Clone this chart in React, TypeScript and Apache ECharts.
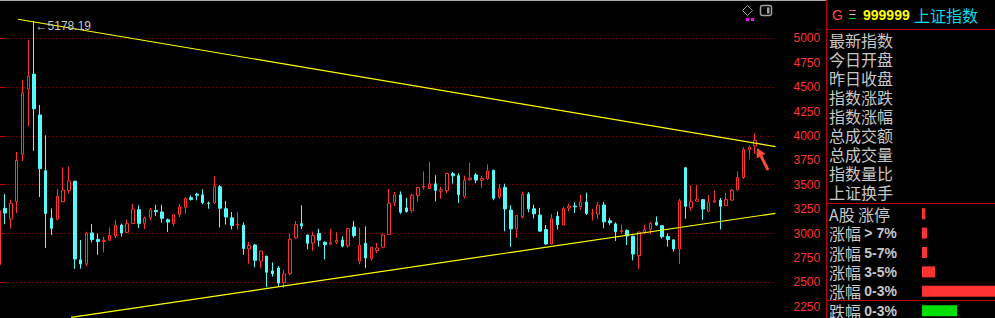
import { useEffect, useRef } from "react";
import * as echarts from "echarts";

// ---- categories: monthly bars, Dec 2014 .. Oct 2025, plus empty slots on the right
const startYear = 2014;
const startMonth = 12;
const monthCount = 131;
const padSlots = ["p1", "p2", "p3"];

// ---- monthly OHLC of 上证指数
const openP = [
  2680,
  3258, 3148, 3328, 3810, 4480, 4633, 4214, 3643, 3157, 3144, 3325, 3441,
  3536, 2730, 2688, 3006, 2940, 2918, 2931, 2974, 3086, 3011, 3102, 3244,
  3105, 3164, 3236, 3221, 3141, 3102, 3193, 3269, 3367, 3403, 3396, 3310,
  3314, 3479, 3254, 3161, 3087, 3084, 2842, 2882, 2716, 2768, 2616, 2647,
  2497, 2589, 2954, 3101, 2984, 2901, 3000, 2910, 2890, 2910, 2932, 2875,
  3066, 2716, 2899, 2743, 2826, 2860, 2991, 3318, 3396, 3262, 3234, 3388,
  3474, 3461, 3509, 3434, 3439, 3612, 3592, 3380, 3551, 3600, 3545, 3560,
  3649, 3375, 3472, 3240, 3048, 3170, 3405, 3253, 3189, 3041, 2893, 3175,
  3087, 3261, 3281, 3275, 3322, 3200, 3199, 3292, 3130, 3098, 3021, 3031,
  2972, 2774, 3014, 3043, 3116, 3080, 2968, 2935, 2841, 3674, 3267, 3330,
  3347, 3229, 3322, 3342, 3285, 3342, 3449, 3574, 3858, 3897,
];
const closeP = [
  3234,
  3210, 3310, 3748, 4441, 4612, 4277, 3664, 3206, 3053, 3382, 3445, 3539,
  2738, 2688, 3004, 2938, 2917, 2930, 2979, 3085, 3005, 3100, 3250, 3104,
  3159, 3242, 3223, 3155, 3117, 3192, 3273, 3361, 3349, 3393, 3317, 3307,
  3481, 3259, 3169, 3082, 3095, 2847, 2876, 2725, 2821, 2603, 2588, 2494,
  2585, 2941, 3091, 3078, 2899, 2979, 2932, 2886, 2905, 2929, 2871, 3050,
  2977, 2880, 2750, 2860, 2852, 2985, 3310, 3396, 3218, 3225, 3392, 3473,
  3483, 3509, 3442, 3447, 3615, 3591, 3397, 3544, 3568, 3547, 3564, 3640,
  3361, 3462, 3252, 3047, 3186, 3399, 3253, 3202, 3024, 2893, 3151, 3089,
  3256, 3280, 3273, 3323, 3205, 3202, 3291, 3120, 3110, 3018, 3030, 2975,
  2789, 3015, 3041, 3105, 3087, 2967, 2939, 2842, 3336, 3279, 3326, 3352,
  3250, 3321, 3336, 3279, 3347, 3444, 3573, 3858, 3883, 3954,
];
const lowP = [
  2664,
  3095, 3049, 3207, 3742, 4100, 3847, 3373, 2850, 2983, 3140, 3320, 3410,
  2638, 2639, 2665, 2909, 2781, 2807, 2928, 2954, 2969, 3008, 3100, 3055,
  3044, 3138, 3181, 3111, 3016, 3073, 3169, 3203, 3337, 3339, 3300, 3254,
  3306, 3062, 3091, 3041, 3041, 2782, 2691, 2653, 2644, 2449, 2558, 2462,
  2440, 2571, 2945, 3045, 2838, 2822, 2867, 2733, 2883, 2891, 2858, 2857,
  2956, 2685, 2646, 2720, 2797, 2847, 2985, 3283, 3202, 3214, 3214, 3325,
  3450, 3457, 3329, 3356, 3414, 3511, 3312, 3360, 3542, 3515, 3470, 3550,
  3341, 3351, 3023, 2863, 2955, 3155, 3216, 3155, 3021, 2885, 2886, 3040,
  3086, 3227, 3209, 3242, 3190, 3134, 3148, 3053, 3085, 2924, 3001, 2882,
  2724, 2635, 2993, 2995, 3083, 2949, 2865, 2815, 2689, 3152, 3230, 3327,
  3140, 3220, 3310, 3040, 3280, 3335, 3440, 3559, 3761, 3816,
];
const highP = [
  3239,
  3406, 3347, 3835, 4572, 4986, 5178.19, 4317, 4006, 3256, 3456, 3678, 3684,
  3539, 2933, 3018, 3097, 3000, 2967, 3060, 3140, 3101, 3138, 3301, 3288,
  3174, 3262, 3295, 3295, 3155, 3201, 3302, 3371, 3391, 3418, 3450, 3326,
  3587, 3496, 3334, 3220, 3219, 3114, 2915, 2894, 2827, 2771, 2703, 2667,
  2630, 2997, 3129, 3288, 2990, 3020, 3049, 2920, 3048, 3014, 2970, 3057,
  3127, 3059, 3074, 2861, 2904, 3000, 3458, 3425, 3431, 3365, 3409, 3475,
  3637, 3732, 3597, 3480, 3625, 3629, 3616, 3593, 3723, 3620, 3591, 3708,
  3651, 3507, 3510, 3290, 3187, 3429, 3424, 3296, 3263, 3087, 3200, 3226,
  3270, 3306, 3320, 3396, 3419, 3254, 3322, 3322, 3160, 3114, 3091, 3043,
  2976, 3017, 3091, 3119, 3175, 3086, 3001, 2939, 3358, 3674, 3494, 3495,
  3351, 3395, 3440, 3364, 3417, 3460, 3637, 3884, 3899, 4025,
];

// ---- trend lines: [month index, price]
const trendUpper = [[3.23, 5195], [133.5, 3891]];
const trendLower = [[12.36, 2141], [133.5, 3207]];

// ---- right panel
const headerCode = "999999";
const headerName = "上证指数";
const infoLabels = ["最新指数", "今日开盘", "昨日收盘", "指数涨跌", "指数涨幅", "总成交额", "总成交量", "指数量比", "上证换手"];
const breadthLabels = ["A股 涨停", "涨幅 > 7%", "涨幅 5-7%", "涨幅 3-5%", "涨幅 0-3%", "跌幅 0-3%"];
const breadthValues = [33, 50, 50, 130, 800, 350];

const months: string[] = [];
for (let i = 0; i < monthCount; i++) {
  const k = startMonth - 1 + i;
  months.push(`${startYear + Math.floor(k / 12)}-${String((k % 12) + 1).padStart(2, "0")}`);
}
const categories = [...months, ...padSlots];
const candles = openP.map((o, i) => [o, closeP[i], lowP[i], highP[i]]);

const RED = "#FF3232";
const CYAN = "#54FCFC";
const LINE_RED = "#C00000";
const GREY = "#C8C8C8";
const CJK = '"Noto Sans CJK SC", sans-serif';

export default function App() {
  const ref = useRef<HTMLDivElement>(null);
  useEffect(() => {
    if (!ref.current) return;
    const chart = echarts.init(ref.current, undefined, { renderer: "svg" });
    const graphics: any[] = [
      { type: "line", shape: { x1: 0, y1: 0.5, x2: 826, y2: 0.5 }, style: { stroke: "#A8A8A8", lineWidth: 1 } },
      { type: "line", shape: { x1: 826.5, y1: 0, x2: 826.5, y2: 318 }, style: { stroke: LINE_RED, lineWidth: 1 } },
      { type: "line", shape: { x1: 826, y1: 29.5, x2: 995, y2: 29.5 }, style: { stroke: LINE_RED, lineWidth: 1 } },
      { type: "line", shape: { x1: 826, y1: 203.5, x2: 995, y2: 203.5 }, style: { stroke: LINE_RED, lineWidth: 1 } },
      { type: "line", shape: { x1: 826, y1: 300.5, x2: 995, y2: 300.5 }, style: { stroke: LINE_RED, lineWidth: 1 } },
      // icons
      { type: "polygon", shape: { points: [[747.5, 5.5], [752.5, 10.5], [747.5, 15.5], [742.5, 10.5]] }, style: { fill: "none", stroke: "#A0A0A0", lineWidth: 1 } },
      { type: "rect", shape: { x: 760.5, y: 5.5, width: 11, height: 10, r: 2 }, style: { fill: "none", stroke: "#A0A0A0", lineWidth: 1.5 } },
      { type: "rect", shape: { x: 767, y: 7.5, width: 2.5, height: 6 }, style: { fill: "#A0A0A0" } },
      { type: "rect", shape: { x: 746, y: 18, width: 3, height: 3 }, style: { fill: "#FF00FF" } },
      { type: "rect", shape: { x: 751, y: 18, width: 3, height: 3 }, style: { fill: "#FF00FF" } },
      // arrow
      {
        type: "polygon",
        shape: { points: [[757, 148], [765.5, 153.8], [762.3, 155.3], [769.3, 169.3], [766.7, 170.7], [759.7, 156.7], [756.5, 158.2]] },
        style: { fill: "#FF4A3A" },
      },
      // header
      { type: "text", x: 832, y: 15, style: { text: "G", fill: "#FF4A4A", fontSize: 14, lineHeight: 14, fontFamily: "Liberation Sans", verticalAlign: "middle" } },
      { type: "line", shape: { x1: 849, y1: 10.5, x2: 856, y2: 10.5 }, style: { stroke: "#E06060", lineWidth: 1 } },
      { type: "line", shape: { x1: 849.5, y1: 14.5, x2: 855.5, y2: 14.5 }, style: { stroke: "#D0D0D0", lineWidth: 1 } },
      { type: "line", shape: { x1: 849, y1: 18.5, x2: 856, y2: 18.5 }, style: { stroke: "#00E000", lineWidth: 1 } },
      { type: "text", x: 863, y: 15, style: { text: headerCode, fill: "#FFFF00", fontSize: 14, lineHeight: 14, fontWeight: "bold", fontFamily: "Liberation Sans", verticalAlign: "middle" } },
      { type: "text", x: 914, y: 15, style: { text: headerName, fill: "#00DCEB", fontSize: 16, lineHeight: 16, fontFamily: CJK, verticalAlign: "middle" } },
      ...infoLabels.map((t, i) => ({
        type: "text",
        x: 829,
        y: 40 + i * 19.06,
        style: { text: t, fill: GREY, fontSize: 16, lineHeight: 16, fontFamily: CJK, verticalAlign: "middle" },
      })),
    ];

    const option: any = {
      animation: false,
      backgroundColor: "#000000",
      grid: [
        { left: -3.7, width: 779.2, top: -10.5, height: 341.6, outerBoundsMode: "none", containLabel: false },
        { left: -3.7, width: 779.2, top: 38.3, height: 268.4, outerBoundsMode: "none", containLabel: false },
        { left: 922, width: 73, top: 204, height: 116.4, outerBoundsMode: "none", containLabel: false },
      ],
      xAxis: [
        { type: "category", gridIndex: 0, data: categories, boundaryGap: true, show: false },
        { type: "value", gridIndex: 0, min: -0.5, max: 133.5, show: false },
        { type: "value", gridIndex: 1, min: 0, max: 1, show: false },
        { type: "value", gridIndex: 2, min: 0, max: 730, show: false },
      ],
      yAxis: [
        {
          type: "value", gridIndex: 0, position: "right", min: 2000, max: 5500, interval: 500,
          axisLine: { show: true, lineStyle: { color: LINE_RED, width: 1 } },
          axisTick: { show: true, length: 6, lineStyle: { color: LINE_RED } },
          axisLabel: { show: false },
          splitLine: { show: true, lineStyle: { color: "#B40000", type: [1, 3], width: 1 } },
        },
        {
          type: "value", gridIndex: 1, position: "right", min: 2250, max: 5000, interval: 250,
          axisLine: { show: false },
          axisTick: { show: true, length: 3, lineStyle: { color: LINE_RED } },
          axisLabel: { show: true, color: RED, fontSize: 12, fontFamily: "Liberation Sans", margin: 18, formatter: (v: number) => String(v) },
          splitLine: { show: false },
        },
        {
          type: "category", gridIndex: 2, inverse: true, data: breadthLabels,
          axisLine: { show: false }, axisTick: { show: false },
          axisLabel: {
            show: true, align: "left", margin: 93,
            formatter: (v: string) => {
              const cut = v.indexOf(" ");
              const p = v.slice(0, cut);
              const q = v.slice(cut + 1);
              const qs = /[\u4e00-\u9fff]/.test(q) ? "a" : "b";
              return `{a|${p}} {${qs}|${q}}`;
            },
            rich: {
              a: { fontSize: 16, lineHeight: 14, fontFamily: CJK, color: GREY },
              b: { fontSize: 14, lineHeight: 14, fontWeight: "bold", fontFamily: "Liberation Sans", color: GREY },
            },
          },
        },
      ],
      series: [
        {
          type: "candlestick", xAxisIndex: 0, yAxisIndex: 0, data: candles, barWidth: 3,
          itemStyle: { color: "#000000", color0: CYAN, borderColor: RED, borderColor0: CYAN, borderWidth: 1 },
          markPoint: {
            symbol: "rect", symbolSize: 1, itemStyle: { color: "rgba(0,0,0,0)" },
            label: {
              show: true, position: "right", distance: 1, offset: [0, 5], color: GREY, fontSize: 12, fontFamily: "Liberation Sans",
              formatter: (p: any) => "←" + Number(p.value).toFixed(2),
            },
            data: [{ type: "max", valueDim: "highest" }],
          },
        },
        { type: "line", xAxisIndex: 1, yAxisIndex: 0, data: trendUpper, symbol: "none", silent: true, lineStyle: { color: "#FFFF00", width: 1.2 } },
        { type: "line", xAxisIndex: 1, yAxisIndex: 0, data: trendLower, symbol: "none", silent: true, lineStyle: { color: "#FFFF00", width: 1.2 } },
        {
          type: "bar", xAxisIndex: 3, yAxisIndex: 2, barWidth: 11,
          data: breadthValues.map((v, i) => ({ value: v, itemStyle: { color: i === breadthValues.length - 1 ? "#00E000" : RED } })),
        },
      ],
      graphic: graphics,
    };
    chart.setOption(option);
    return () => chart.dispose();
  }, []);
  return <div ref={ref} style={{ position: "absolute", left: 0, top: 0, width: 995, height: 318, background: "#000" }} />;
}
